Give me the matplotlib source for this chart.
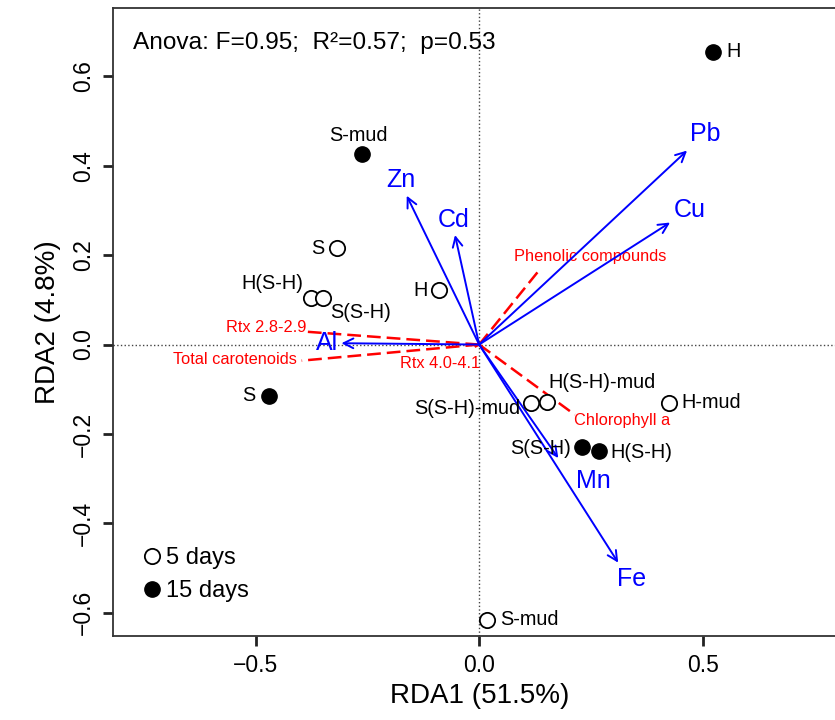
import numpy as np
import matplotlib.pyplot as plt
from matplotlib.lines import Line2D

plt.rcParams['font.family'] = ['Liberation Sans', 'DejaVu Sans']

# site scores (RDA1, RDA2)
site_x_5d = [-0.318, -0.376, -0.349, -0.090, 0.117, 0.151, 0.425, 0.017]
site_y_5d = [0.215, 0.105, 0.105, 0.122, -0.131, -0.129, -0.130, -0.616]
site_lab_5d = ['S', 'H(S-H)', 'S(S-H)', 'H', 'S(S-H)-mud', 'H(S-H)-mud', 'H-mud', 'S-mud']
lab_x_5d = [-0.362, -0.462, -0.265, -0.130, -0.026, 0.274, 0.518, 0.113]
lab_y_5d = [0.215, 0.137, 0.072, 0.122, -0.142, -0.086, -0.130, -0.616]

site_x_15d = [0.523, -0.262, -0.470, 0.231, 0.267]
site_y_15d = [0.655, 0.426, -0.114, -0.230, -0.239]
site_lab_15d = ['H', 'S-mud', 'S', 'S(S-H)', 'H(S-H)']
lab_x_15d = [0.569, -0.269, -0.516, 0.138, 0.362]
lab_y_15d = [0.655, 0.468, -0.114, -0.232, -0.242]

# metal vectors
metals = ['Zn', 'Cd', 'Pb', 'Cu', 'Al', 'Mn', 'Fe']
metal_x = [-0.162, -0.054, 0.465, 0.427, -0.308, 0.177, 0.311]
metal_y = [0.333, 0.245, 0.434, 0.273, 0.003, -0.254, -0.488]
metal_lx = [-0.176, -0.058, 0.505, 0.470, -0.340, 0.255, 0.341]
metal_ly = [0.368, 0.279, 0.471, 0.300, 0.003, -0.306, -0.525]

# pigment / response vectors
pigments = ['Phenolic compounds', 'Rtx 2.8-2.9', 'Total carotenoids', 'Rtx 4.0-4.1', 'Chlorophyll a']
pig_x = [0.134, -0.390, -0.397, -0.010, 0.214]
pig_y = [0.166, 0.029, -0.036, -0.005, -0.157]
pig_lx = [0.249, -0.477, -0.547, -0.088, 0.319]
pig_ly = [0.198, 0.039, -0.034, -0.043, -0.171]

fig = plt.figure(figsize=(8.35, 7.2), dpi=100)
ax = fig.add_axes([0.1353, 0.1167, 0.8776, 0.8722])
ax.set_xlim(-0.819, 0.82)
ax.set_ylim(-0.652, 0.753)

ax.axhline(0, color='#444444', lw=1.0, ls=':', zorder=1)
ax.axvline(0, color='#444444', lw=1.0, ls=':', zorder=1)

for x, y in zip(pig_x, pig_y):
    ax.plot([0, x], [0, y], color='red', lw=1.8, ls=(0, (5.5, 2.4)), zorder=2)
for lab, x, y in zip(pigments, pig_lx, pig_ly):
    ax.text(x, y, lab, color='red', fontsize=11.8, ha='center', va='center')

for x, y in zip(metal_x, metal_y):
    ax.annotate('', xy=(x, y), xytext=(0, 0),
                arrowprops=dict(arrowstyle='->,head_length=0.7,head_width=0.35',
                                color='blue', lw=1.4, shrinkA=0, shrinkB=0), zorder=3)
for lab, x, y in zip(metals, metal_lx, metal_ly):
    ax.text(x, y, lab, color='blue', fontsize=18, ha='center', va='center')

ax.plot(site_x_5d, site_y_5d, 'o', ms=11, mfc='white', mec='black', mew=1.3, ls='none', zorder=4)
ax.plot(site_x_15d, site_y_15d, 'o', ms=11, mfc='black', mec='black', ls='none', zorder=4)
for lab, x, y in zip(site_lab_5d + site_lab_15d, lab_x_5d + lab_x_15d, lab_y_5d + lab_y_15d):
    ax.text(x, y, lab, fontsize=14.3, ha='center', va='center', zorder=5)

ax.text(-0.775, 0.674, 'Anova: F=0.95;  R²=0.57;  p=0.53', fontsize=17.6, ha='left', va='center')

handles = [Line2D([], [], marker='o', ls='none', ms=11, mfc='white', mec='black', mew=1.3),
           Line2D([], [], marker='o', ls='none', ms=11, mfc='black', mec='black')]
ax.legend(handles, ['5 days', '15 days'], loc='lower left', bbox_to_anchor=(0.043, 0.054),
          frameon=False, fontsize=17, handlelength=0.6, handletextpad=0.3,
          labelspacing=0.45, borderpad=0, borderaxespad=0)

ax.set_xticks([-0.5, 0.0, 0.5])
ax.set_yticks([-0.6, -0.4, -0.2, 0.0, 0.2, 0.4, 0.6])
ax.tick_params(length=7, width=2, pad=6, labelsize=16.5, color='#222222')
for t in ax.get_yticklabels():
    t.set_rotation(90)
    t.set_va('center')
for s in ax.spines.values():
    s.set_linewidth(1.3)
    s.set_color('#333333')

ax.set_xlabel('RDA1 (51.5%)', fontsize=20, labelpad=4)
ax.set_ylabel('RDA2 (4.8%)', fontsize=20, labelpad=8)

fig.savefig('out.png', dpi=100)
